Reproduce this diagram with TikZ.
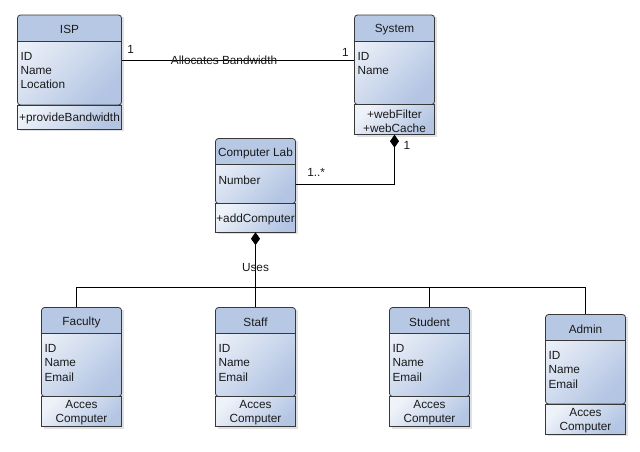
\documentclass[tikz,border=0pt]{standalone}
\usepackage{fontspec}
\setmainfont{Liberation Sans}
\usetikzlibrary{arrows.meta,fit,calc}
\definecolor{hdr}{HTML}{B7C8E5}
\definecolor{bodyA}{HTML}{EEF2F9}
\definecolor{bodyB}{HTML}{B3C5E3}
\definecolor{outc}{HTML}{383838}
\definecolor{txt}{HTML}{1A1A1A}
\tikzset{
  clsfont/.style={font=\fontsize{11.8}{14.2}\selectfont, text=txt},
  bodyshade/.style={top color=bodyA, bottom color=bodyB, shading angle=45},
  outl/.style={draw=outc, line width=0.8pt},
  ttl/.style={clsfont, inner sep=0pt, yshift=-1.5pt},
  attrs/.style={clsfont, align=left, anchor=north west, inner xsep=3pt, inner ysep=11pt},
  meths/.style={clsfont, align=center, inner sep=0pt, yshift=-1.5pt},
  lbl/.style={clsfont, inner sep=0pt},
  conn/.style={draw=black, line width=0.9pt},
  comp/.style={conn, -{Diamond[length=13pt,width=9pt]}},
}
% name, x1, x2, ytop, yheader, yattr, ybottom
\newcommand\umlclass[7]{%
  \fill[black!12] (#2+2,#4+2) rectangle (#3+2,#7+2);
  \shade[bodyshade, rounded corners=3pt] (#2,#4) rectangle (#3,#6);
  \fill[hdr, rounded corners=3pt] (#2,#4) rectangle (#3,#5);
  \fill[hdr] (#2,#4+4) rectangle (#3,#5);
  \draw[outl, rounded corners=3pt] (#2,#4) rectangle (#3,#6);
  \draw[outl] (#2,#5) -- (#3,#5);
  \shade[bodyshade] (#2,#6) rectangle (#3,#7);
  \draw[outl] (#2,#6) rectangle (#3,#7);
  \node[fit={(#2,#4)(#3,#5)}, inner sep=0pt] (#1-h) {};
  \node[fit={(#2,#5)(#3,#6)}, inner sep=0pt] (#1-a) {};
  \node[fit={(#2,#6)(#3,#7)}, inner sep=0pt] (#1-m) {};
  \node[fit={(#2,#4)(#3,#7)}, inner sep=0pt] (#1) {};
}
\begin{document}
\begin{tikzpicture}[x=1pt,y=-1pt]
\path[use as bounding box, fill=white] (0,0) rectangle (640,451);

\umlclass{isp}{17.5}{121.5}{15}{41}{105}{129}
\node[ttl] at (isp-h) {ISP};
\node[attrs] at (isp-a.north west) {ID\\Name\\Location};
\node[meths] at (isp-m) {+provideBandwidth};

\umlclass{sys}{354.5}{434.5}{15}{41.5}{104.5}{134.5}
\node[ttl] at (sys-h) {System};
\node[attrs] at (sys-a.north west) {ID\\Name};
\node[meths] at (sys-m) {+webFilter\\+webCache};

\umlclass{cl}{215.5}{295.5}{138.5}{164.5}{203.5}{232}
\node[ttl] at (cl-h) {Computer Lab};
\node[attrs] at (cl-a.north west) {Number};
\node[meths] at (cl-m) {+addComputer};

\umlclass{fac}{41.5}{121.5}{307.5}{333.5}{396.5}{426.5}
\node[ttl] at (fac-h) {Faculty};
\node[attrs] at (fac-a.north west) {ID\\Name\\Email};
\node[meths] at (fac-m) {Acces\\Computer};

\umlclass{stf}{215.5}{295.5}{307.5}{333.5}{396.5}{426.5}
\node[ttl] at (stf-h) {Staff};
\node[attrs] at (stf-a.north west) {ID\\Name\\Email};
\node[meths] at (stf-m) {Acces\\Computer};

\umlclass{stu}{389.5}{469.5}{307.5}{333.5}{396.5}{426.5}
\node[ttl] at (stu-h) {Student};
\node[attrs] at (stu-a.north west) {ID\\Name\\Email};
\node[meths] at (stu-m) {Acces\\Computer};

\umlclass{adm}{545.5}{625.5}{314.5}{340.5}{404}{434}
\node[ttl] at (adm-h) {Admin};
\node[attrs] at (adm-a.north west) {ID\\Name\\Email};
\node[meths] at (adm-m) {Acces\\Computer};

% ISP -- System
\draw[conn] ([yshift=13pt]isp-a.east) --
  node[lbl, pos=0.44] (lab1) {Allocates Bandwidth}
  node[lbl, pos=0, xshift=9pt, yshift=11pt] (m1) {1}
  node[lbl, pos=1, xshift=-9pt, yshift=8pt] (m2) {1}
  ([yshift=13pt]sys-a.west);

% Computer Lab -- System (composition)
\draw[comp] (cl-a.east) -| 
  node[lbl, pos=0, xshift=20.5pt, yshift=11.5pt] (m3) {1..*}
  node[lbl, pos=1, xshift=12.5pt, yshift=-10.5pt] (m4) {1}
  (sys.south);

% Staff -- Computer Lab (composition)
\draw[comp] (stf.north) -- node[lbl, pos=0.535] (uses) {Uses} (cl.south);

% bus
\coordinate (bus) at (0,287);
\draw[conn] ([xshift=-5pt]fac.north) -- ([xshift=-5pt]fac.north |- bus) -- (adm.north |- bus) -- (adm.north);
\draw[conn] (stu.north) -- (stu.north |- bus);
\end{tikzpicture}
\end{document}
